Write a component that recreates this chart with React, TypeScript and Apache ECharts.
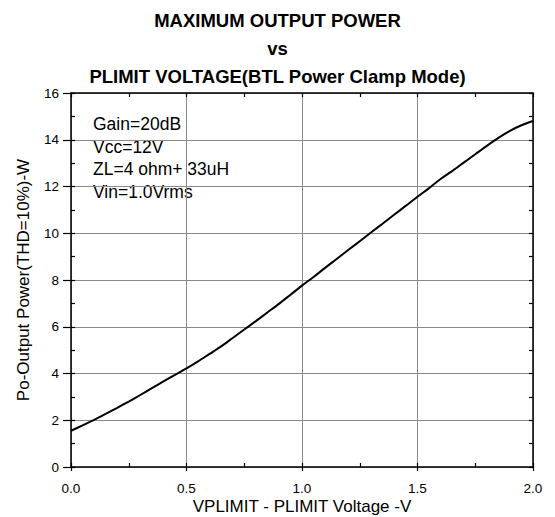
import React, { useEffect, useRef } from "react";
import * as echarts from "echarts";

const titleLines = ["MAXIMUM OUTPUT POWER", "vs", "PLIMIT VOLTAGE(BTL Power Clamp Mode)"];
const noteLines = ["Gain=20dB", "Vcc=12V", "ZL=4 ohm+ 33uH", "Vin=1.0Vrms"];
const xAxisTitle = "VPLIMIT - PLIMIT Voltage -V";
const yAxisTitle = "Po-Output Power(THD=10%)-W";
const xValues = [0, 0.05, 0.1, 0.15, 0.2, 0.25, 0.3, 0.35, 0.4, 0.45, 0.5, 0.55, 0.6, 0.65, 0.7, 0.75, 0.8, 0.85, 0.9, 0.95, 1.0,
  1.05, 1.1, 1.15, 1.2, 1.25, 1.3, 1.35, 1.4, 1.45, 1.5, 1.55, 1.6, 1.65, 1.7, 1.75, 1.8, 1.85, 1.9, 1.95, 2.0];
const powerValues = [1.55, 1.78, 2.02, 2.27, 2.53, 2.8, 3.08, 3.37, 3.66, 3.94, 4.22, 4.52, 4.84, 5.16, 5.52, 5.88, 6.24, 6.61, 6.98, 7.37, 7.76,
  8.13, 8.52, 8.9, 9.28, 9.66, 10.04, 10.42, 10.8, 11.18, 11.56, 11.93, 12.32, 12.66, 13.02, 13.38, 13.74, 14.08, 14.38, 14.62, 14.8];
const xTickLabels = ["0.0", "0.5", "1.0", "1.5", "2.0"];

const FONT = "Liberation Sans, Arial, sans-serif";

export default function App() {
  const ref = useRef<HTMLDivElement>(null);
  useEffect(() => {
    if (!ref.current) return;
    const chart = echarts.init(ref.current, null, { renderer: "svg" });
    const gridColor = "#8a8a8a";
    const axisLine = { show: true, onZero: false, lineStyle: { color: "#000", width: 1.5 } };
    const innerTick = (len: number) => ({ show: true, inside: true, length: len, lineStyle: { color: "#000", width: 1.2 } });
    chart.setOption({
      animation: false,
      backgroundColor: "#fff",
      title: titleLines.map((t, i) => ({
        text: t,
        left: "center",
        top: 6 + i * 28,
        textStyle: { fontFamily: FONT, fontSize: 18.5, fontWeight: "bold", color: "#000" },
      })),
      graphic: [
        ...noteLines.map((t, i) => ({
          type: "text",
          left: 93,
          top: 115 + i * 22.6,
          style: { text: t, font: `17.5px ${FONT}`, fill: "#000" },
        })),
        {
          type: "text",
          x: 302,
          y: 506,
          style: {
            text: xAxisTitle,
            font: `17px ${FONT}`,
            fill: "#000",
            textAlign: "center",
            textVerticalAlign: "middle",
          },
        },
      ],
      grid: { left: 71, top: 93, right: 22, bottom: 50, containLabel: false, outerBoundsMode: "none" },
      xAxis: [
        {
          type: "value",
          min: 0,
          max: 2,
          interval: 0.5,
          position: "bottom",
          axisLine,
          axisTick: { show: true, inside: false, length: 4, lineStyle: { color: "#000", width: 1.2 } },
          splitLine: { show: true, lineStyle: { color: gridColor, width: 1 } },
          axisLabel: {
            fontFamily: FONT,
            fontSize: 13.5,
            color: "#000",
            margin: 14,
            formatter: (v: number) => xTickLabels[Math.round(v / 0.5)] ?? v.toFixed(1),
          },
        },
        {
          type: "value",
          min: 0,
          max: 2,
          interval: 0.25,
          position: "top",
          axisLine,
          axisTick: innerTick(4),
          axisLabel: { show: false },
          splitLine: { show: false },
        },
        {
          type: "value",
          min: 0,
          max: 2,
          interval: 0.25,
          position: "bottom",
          axisLine: { show: false },
          axisTick: innerTick(4),
          axisLabel: { show: false },
          splitLine: { show: false },
        },
      ],
      yAxis: [
        {
          type: "value",
          min: 0,
          max: 16,
          interval: 2,
          position: "left",
          axisLine,
          axisTick: { show: true, inside: false, length: 8, lineStyle: { color: "#000", width: 1.2 } },
          splitLine: { show: true, lineStyle: { color: gridColor, width: 1 } },
          axisLabel: { fontFamily: FONT, fontSize: 13.5, color: "#000", margin: 12 },
          name: yAxisTitle,
          nameLocation: "middle",
          nameGap: 39,
          nameTextStyle: { fontFamily: FONT, fontSize: 17, color: "#000" },
        },
        {
          type: "value",
          min: 0,
          max: 16,
          interval: 1,
          position: "right",
          axisLine,
          axisTick: innerTick(4),
          axisLabel: { show: false },
          splitLine: { show: false },
        },
        {
          type: "value",
          min: 0,
          max: 16,
          interval: 1,
          position: "left",
          axisLine: { show: false },
          axisTick: innerTick(4),
          axisLabel: { show: false },
          splitLine: { show: false },
        },
      ],
      series: [
        {
          type: "line",
          data: xValues.map((x, i) => [x, powerValues[i]]),
          xAxisIndex: 0,
          yAxisIndex: 0,
          showSymbol: false,
          smooth: 0.3,
          lineStyle: { color: "#000", width: 2 },
        },
      ],
    });
    return () => chart.dispose();
  }, []);
  return (
    <div
      ref={ref}
      style={{ position: "fixed", left: 0, top: 0, width: 555, height: 517, background: "#fff" }}
    />
  );
}
